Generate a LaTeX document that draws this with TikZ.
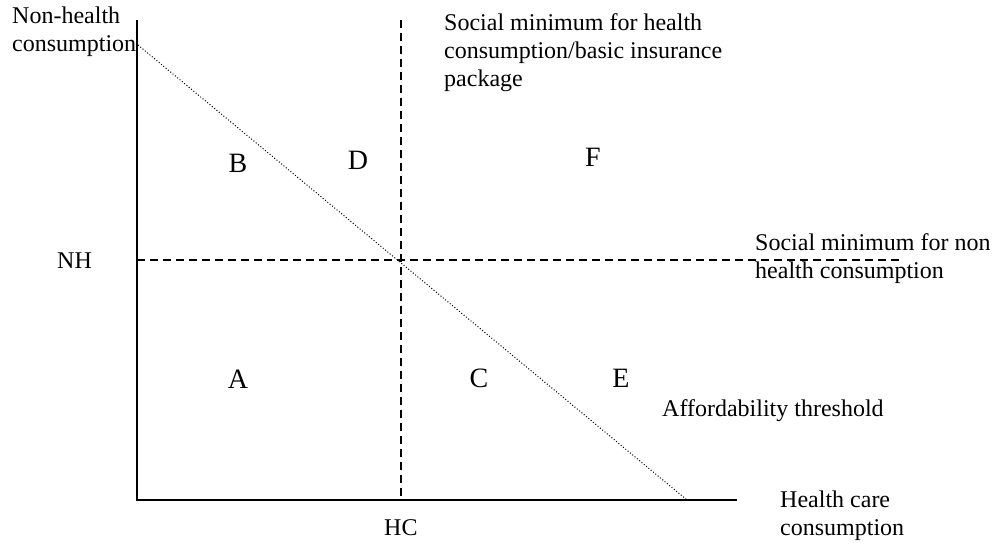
\documentclass[tikz,border=0pt]{standalone}
\usepackage{fontspec}
\setmainfont{Liberation Serif}
\begin{document}
\begin{tikzpicture}[x=1pt,y=-1pt,
  lbl/.style={font=\fontsize{24}{27.6}\selectfont, inner sep=0pt, align=left, anchor=base west},
  region/.style={font=\fontsize{28}{32}\selectfont, inner sep=0pt},
  axis/.style={line width=1.6pt},
  minline/.style={line width=1.4pt, dash pattern=on 8pt off 5pt},
  threshold/.style={line width=1pt, dash pattern=on 1pt off 2pt}]
\useasboundingbox (0,0) rectangle (997,546);

% axes and reference lines
\coordinate (O) at (137,500);
\coordinate (ytop) at (137,20);
\coordinate (xend) at (737,500);
\coordinate (vtop) at (401,20);
\coordinate (vbot) at (401,500);
\coordinate (hl) at (137,260);
\coordinate (hr) at (900,260);
\coordinate (t1) at (138,45);
\coordinate (t2) at (687,500);

\draw[axis] (ytop) -- (O) -- (xend);
\draw[minline] (vtop) -- (vbot);
\draw[minline] (hl) -- (hr);
\draw[threshold] (t1) -- (t2);

% axis and line labels (anchored at the baseline of the last line)
\node[lbl] (yl) at (12,51) {Non-health\\consumption};
\node[lbl] (xl) at (780,535) {Health care\\consumption};
\node[lbl] (nh) at (57,268) {NH};
\node[lbl] (hc) at (384,535) {HC};
\node[lbl] (smh) at (444,86) {Social minimum for health\\consumption/basic insurance\\package};
\node[lbl] (smn) at (755,278) {Social minimum for non\\health consumption};
\node[lbl] (aff) at (662,416) {Affordability threshold};

% regions
\node[region] (B) at (238,163) {B};
\node[region] (D) at (358,160) {D};
\node[region] (F) at (593,157) {F};
\node[region] (A) at (238,379) {A};
\node[region] (C) at (479,378) {C};
\node[region] (E) at (621,378) {E};
\end{tikzpicture}
\end{document}
